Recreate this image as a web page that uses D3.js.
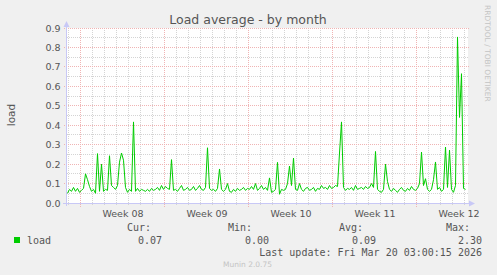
<!DOCTYPE html>
<html>
<head>
<meta charset="utf-8">
<script src="https://cdn.jsdelivr.net/npm/d3@7"></script>
<style>
body{margin:0;background:#f0f0f0;}
svg{display:block;}
text{font-family:"DejaVu Sans",sans-serif;}
.mono{font-family:"DejaVu Sans Mono",monospace;}
</style>
</head>
<body>
<div class="graph"></div>
<script>
// munin load, monthly view
var title="Load average - by month";
var yTicks=[0,0.1,0.2,0.3,0.4,0.5,0.6,0.7,0.8,0.9];
var weekLabels=["Week 08","Week 09","Week 10","Week 11","Week 12"];
var statLabels=["Cur:","Min:","Avg:","Max:"];
var statValues=["0.07","0.00","0.09","2.30"];
var lastUpdate="Last update: Fri Mar 20 03:00:15 2026";
// one value every 4 hours, oldest first
var loadValues=[
0.05,0.07,0.06,0.08,0.06,0.075,0.055,0.065,0.075,0.15,
0.12,0.085,0.06,0.07,0.05,0.254,0.06,0.20,0.06,0.07,
0.065,0.243,0.09,0.08,0.07,0.09,0.21,0.257,0.22,0.08,
0.055,0.07,0.06,0.417,0.06,0.075,0.06,0.07,0.065,0.06,
0.07,0.06,0.075,0.065,0.07,0.08,0.065,0.09,0.07,0.085,
0.075,0.07,0.223,0.065,0.07,0.06,0.075,0.09,0.065,0.07,
0.08,0.065,0.07,0.085,0.065,0.075,0.09,0.07,0.065,0.08,
0.284,0.075,0.065,0.07,0.06,0.075,0.175,0.07,0.06,0.07,
0.10,0.06,0.055,0.07,0.06,0.075,0.065,0.07,0.08,0.065,
0.075,0.07,0.085,0.07,0.10,0.065,0.075,0.09,0.07,0.08,
0.065,0.129,0.055,0.06,0.07,0.209,0.045,0.07,0.065,0.07,
0.10,0.19,0.09,0.231,0.07,0.065,0.10,0.07,0.06,0.075,
0.08,0.065,0.07,0.08,0.06,0.075,0.07,0.09,0.075,0.08,
0.07,0.09,0.075,0.08,0.09,0.085,0.257,0.417,0.08,0.065,
0.075,0.07,0.08,0.065,0.09,0.07,0.075,0.08,0.07,0.085,
0.075,0.08,0.10,0.08,0.265,0.07,0.06,0.055,0.07,0.20,
0.11,0.07,0.06,0.075,0.065,0.055,0.07,0.08,0.065,0.06,
0.075,0.065,0.085,0.07,0.065,0.075,0.10,0.262,0.09,0.125,
0.07,0.06,0.07,0.12,0.211,0.07,0.08,0.06,0.07,0.288,
0.08,0.272,0.07,0.055,0.09,0.854,0.44,0.665,0.075,0.07
];

var width=497,height=275;
var endTime=new Date(Date.UTC(2026,2,20,3,0,15));
var startTime=d3.utcHour.offset(endTime,-800);
var data=loadValues.map(function(v,i){
	return {t:d3.utcHour.offset(startTime,2+4*i),v:v};
});

var svg=d3.select('div.graph')
		.append('svg')
		.attr('width',width)
		.attr('height',height);

var x=d3.scaleUtc().domain([startTime,endTime]).range([66.5,466.5]);
var y=d3.scaleLinear().domain([0,0.9]).range([203,28]);
var px=function(v){return Math.floor(v)+0.5;};

svg.append('rect').attr('x',67).attr('y',28).attr('width',401).attr('height',175).attr('fill','#fff');

// minor grid
var g=svg.append('g');
g.selectAll('line.hmin')
	.data(d3.range(0.05,0.9,0.1))
	.enter().append('line')
	.attr('x1',67).attr('x2',468)
	.attr('y1',function(d){return px(y(d));})
	.attr('y2',function(d){return px(y(d));})
	.attr('stroke','#d4d4d4').attr('stroke-dasharray','1,1')
	.attr('shape-rendering','crispEdges');
var days=d3.utcDay.range(startTime,endTime).filter(function(d){return d.getUTCDay()!=1;});
g.selectAll('line.vmin')
	.data(days)
	.enter().append('line')
	.attr('x1',function(d){return px(x(d));})
	.attr('x2',function(d){return px(x(d));})
	.attr('y1',28).attr('y2',205)
	.attr('stroke','#d4d4d4').attr('stroke-dasharray','1,1')
	.attr('shape-rendering','crispEdges');

// major grid
var mondays=d3.utcMonday.range(startTime,endTime);
g.selectAll('line.hmaj')
	.data(yTicks.slice(1))
	.enter().append('line')
	.attr('x1',64).attr('x2',469)
	.attr('y1',function(d){return px(y(d));})
	.attr('y2',function(d){return px(y(d));})
	.attr('stroke','#f0b4b4').attr('stroke-dasharray','1,1')
	.attr('shape-rendering','crispEdges');
g.selectAll('line.vmaj')
	.data(mondays)
	.enter().append('line')
	.attr('x1',function(d){return px(x(d));})
	.attr('x2',function(d){return px(x(d));})
	.attr('y1',28).attr('y2',207)
	.attr('stroke','#f0b4b4').attr('stroke-dasharray','1,1')
	.attr('shape-rendering','crispEdges');

// axes
var axisColor='#c8c8f6';
svg.append('line').attr('x1',66.5).attr('x2',66.5).attr('y1',206).attr('y2',26)
	.attr('stroke',axisColor).attr('shape-rendering','crispEdges');
svg.append('line').attr('x1',63).attr('x2',470).attr('y1',203.5).attr('y2',203.5)
	.attr('stroke',axisColor).attr('shape-rendering','crispEdges');
svg.append('path').attr('d','M63.5,27L66.5,21L69.5,27Z').attr('fill',axisColor);
svg.append('path').attr('d','M469,200.5L475,203.5L469,206.5Z').attr('fill',axisColor);

// y labels
svg.selectAll('text.ytick')
	.data(yTicks)
	.enter().append('text')
	.attr('x',60.5)
	.attr('y',function(d){return y(d)+3.6;})
	.attr('text-anchor','end')
	.style('font-size','9.5px')
	.attr('fill','#555')
	.text(function(d){return d.toFixed(1);});

// week labels
svg.selectAll('text.xtick')
	.data(mondays)
	.enter().append('text')
	.attr('x',function(d){return x(d3.utcHour.offset(d,84));})
	.attr('y',217)
	.attr('text-anchor','middle')
	.style('font-size','9.5px')
	.attr('fill','#555')
	.text(function(d,i){return weekLabels[i];});

// the line
var line=d3.line()
	.x(function(d){return x(d.t);})
	.y(function(d){return y(d.v);});
svg.append('path')
	.datum(data)
	.attr('d',line)
	.attr('fill','none')
	.attr('stroke','#00cc00')
	.attr('stroke-width',1);

svg.append('text').attr('x',248).attr('y',24).attr('text-anchor','middle')
	.style('font-size','12.5px').attr('fill','#555').text(title);
svg.append('text').attr('transform','translate(15,115) rotate(-90)').attr('text-anchor','middle')
	.style('font-size','10.5px').attr('fill','#555').text('load');
svg.append('text').attr('transform','translate(485,5) rotate(90)')
	.style('font-size','7.5px').attr('fill','#c4c4c4').text('RRDTOOL / TOBI OETIKER');

// legend
svg.append('rect').attr('x',14).attr('y',237).attr('width',6).attr('height',6).attr('fill','#00cc00');
svg.append('text').attr('class','mono').attr('x',27).attr('y',243.5)
	.style('font-size','10px').attr('fill','#555').text('load');
var labelEnd=[151,252,363,470],valueEnd=[162,269,376,482];
svg.selectAll('text.slabel')
	.data(statLabels)
	.enter().append('text')
	.attr('class','mono')
	.attr('x',function(d,i){return labelEnd[i];})
	.attr('y',230.5)
	.attr('text-anchor','end')
	.style('font-size','10px').attr('fill','#555')
	.text(function(d){return d;});
svg.selectAll('text.svalue')
	.data(statValues)
	.enter().append('text')
	.attr('class','mono')
	.attr('x',function(d,i){return valueEnd[i];})
	.attr('y',243.5)
	.attr('text-anchor','end')
	.style('font-size','10px').attr('fill','#555')
	.text(function(d){return d;});
svg.append('text').attr('class','mono').attr('x',482).attr('y',256).attr('text-anchor','end')
	.style('font-size','10px').attr('fill','#555').text(lastUpdate);
svg.append('text').attr('x',247.5).attr('y',267).attr('text-anchor','middle')
	.style('font-size','7.5px').attr('fill','#c4c4c4').text('Munin 2.0.75');
</script>
</body>
</html>
